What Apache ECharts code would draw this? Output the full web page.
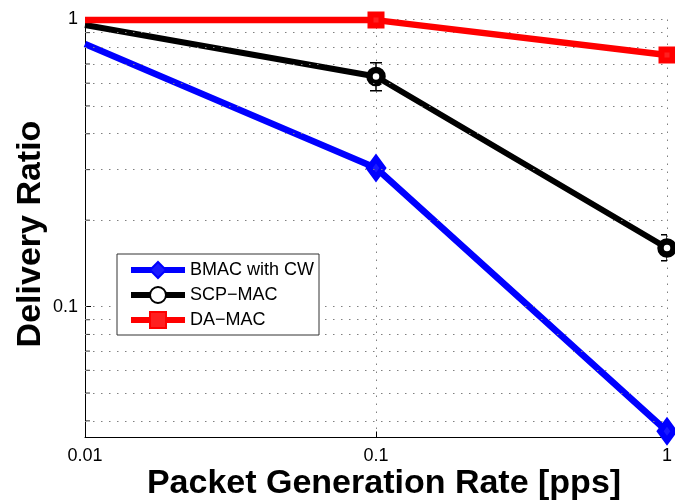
<!DOCTYPE html>
<html>
<head>
<meta charset="utf-8">
<script src="https://cdn.jsdelivr.net/npm/echarts@6/dist/echarts.min.js"></script>
<style>
html,body{margin:0;padding:0;background:#fff;}
#chart{width:675px;height:501px;}
</style>
</head>
<body>
<div id="chart"></div>
<script>
// ---- data ----
const xValues = [0.01, 0.1, 1];
const seriesNames = ['BMAC with CW', 'SCP\u2212MAC', 'DA\u2212MAC'];
const bmacWithCW = [0.822, 0.304, 0.0368];
const scpMac = [0.957, 0.633, 0.160];
const scpMacErrLow = [null, 0.565, 0.1445];
const scpMacErrHigh = [null, 0.707, 0.178];
const daMac = [0.995, 0.995, 0.752];
const markerShown = [false, true, true];
const xTickLabels = ['0.01', '0.1', '1'];
const yTickLabels = ['0.1', '1'];
const yGridValues = [0.04, 0.05, 0.06, 0.07, 0.08, 0.09, 0.1, 0.2, 0.3, 0.4, 0.5, 0.6, 0.7, 0.8, 0.9, 1];
const yMinorTicks = [0.04, 0.05, 0.06, 0.07, 0.08, 0.09, 0.2, 0.3, 0.4, 0.5, 0.6, 0.7, 0.8, 0.9];

const FONT = 'Liberation Sans, Arial, Helvetica, sans-serif';
const gridStyle = { color: '#808080', width: 1, type: [1.5, 6.5] };

function pairs(vals) {
  return xValues.map((x, i) => markerShown[i] ? { value: [x, vals[i]] } : { value: [x, vals[i]], symbol: 'none' });
}
function fmt(list) {
  return function (v) {
    const s = String(+Number(v).toPrecision(3));
    return list.indexOf(s) >= 0 ? s : '';
  };
}

const chart = echarts.init(document.getElementById('chart'), null, { renderer: 'canvas' });

const errData = xValues.map((x, i) => [x, scpMacErrLow[i], scpMacErrHigh[i]]).filter(d => d[1] != null);

const option = {
  animation: false,
  backgroundColor: '#fff',
  grid: { left: 85, right: 8, top: 19.5, bottom: 63.5, containLabel: false, outerBoundsMode: 'none' },
  xAxis: {
    type: 'log', logBase: 10, min: 0.01, max: 1,
    name: 'Packet Generation Rate [pps]', nameLocation: 'middle', nameGap: 29,
    nameMoveOverlap: false,
    nameTextStyle: { fontFamily: FONT, fontWeight: 'bold', fontSize: 34, color: '#000', padding: [0, 0, 0, 16] },
    axisLine: { show: true, lineStyle: { color: '#000', width: 1 } },
    axisTick: { show: true, inside: true, length: 6, lineStyle: { color: '#000' } },
    axisLabel: { fontFamily: FONT, fontSize: 18, color: '#000', margin: 10, formatter: fmt(xTickLabels) },
    splitLine: { show: true, lineStyle: gridStyle },
    minorTick: { show: false }
  },
  yAxis: {
    type: 'log', logBase: 10, min: 0.035, max: 1,
    name: 'Delivery Ratio', nameLocation: 'middle', nameGap: 37, nameRotate: 90,
    nameMoveOverlap: false,
    nameTextStyle: { fontFamily: FONT, fontWeight: 'bold', fontSize: 34, color: '#000', padding: [0, 11, 0, 0] },
    axisLine: { show: true, lineStyle: { color: '#000', width: 1 } },
    axisTick: { show: true, inside: true, length: 6, lineStyle: { color: '#000' } },
    axisLabel: { fontFamily: FONT, fontSize: 18, color: '#000', margin: 7, formatter: fmt(yTickLabels) },
    splitLine: { show: false }
  },
  legend: {
    data: seriesNames,
    orient: 'vertical',
    left: 117, top: 254,
    padding: [7, 5, 6, 11],
    itemWidth: 54, itemHeight: 20, itemGap: 7,
    lineStyle: { width: 6 },
    backgroundColor: '#fff',
    borderColor: '#333', borderWidth: 1, borderRadius: 0,
    textStyle: { fontFamily: FONT, fontSize: 18, color: '#000', padding: [0, 0, 0, 0] },
    z: 10
  },
  series: [
    {
      type: 'scatter', name: 'minorticks', silent: true,
      data: yMinorTicks.map(v => [0.01, v]),
      symbol: 'rect', symbolSize: [5, 1], symbolOffset: [2.5, 0],
      itemStyle: { color: '#000' }, z: 1,
      markLine: {
        silent: true, symbol: 'none', label: { show: false },
        lineStyle: gridStyle,
        data: yGridValues.map(v => ({ yAxis: v }))
      }
    },
    {
      type: 'custom', name: 'errorbars', silent: true, clip: true, z: 2,
      data: errData,
      encode: { x: 0, y: [1, 2] },
      renderItem: function (params, api) {
        const x = api.value(0);
        const lo = api.coord([x, api.value(1)]);
        const hi = api.coord([x, api.value(2)]);
        const hw = 6;
        const st = { stroke: '#000', lineWidth: 1.5 };
        return {
          type: 'group',
          children: [
            { type: 'line', shape: { x1: lo[0], y1: lo[1], x2: hi[0], y2: hi[1] }, style: st },
            { type: 'line', shape: { x1: lo[0] - hw, y1: lo[1], x2: lo[0] + hw, y2: lo[1] }, style: st },
            { type: 'line', shape: { x1: hi[0] - hw, y1: hi[1], x2: hi[0] + hw, y2: hi[1] }, style: st }
          ]
        };
      }
    },
    {
      type: 'line', name: seriesNames[0], data: pairs(bmacWithCW), clip: false, z: 3,
      symbol: 'diamond', symbolSize: [14, 19], showAllSymbol: true,
      lineStyle: { color: '#0000ff', width: 6.5 },
      itemStyle: { color: '#1a1aff', borderColor: '#0000ff', borderWidth: 6 }
    },
    {
      type: 'line', name: seriesNames[1], data: pairs(scpMac), clip: false, z: 4,
      symbol: 'circle', symbolSize: 13,
      lineStyle: { color: '#000', width: 6 },
      itemStyle: { color: '#fff', borderColor: '#000', borderWidth: 6.5 }
    },
    {
      type: 'line', name: seriesNames[2], data: pairs(daMac), clip: false, z: 5,
      symbol: 'rect', symbolSize: 11,
      lineStyle: { color: '#ff0000', width: 6.5 },
      itemStyle: { color: '#ff2020', borderColor: '#ff0000', borderWidth: 6 }
    }
  ]
};
chart.setOption(option);
</script>
</body>
</html>
